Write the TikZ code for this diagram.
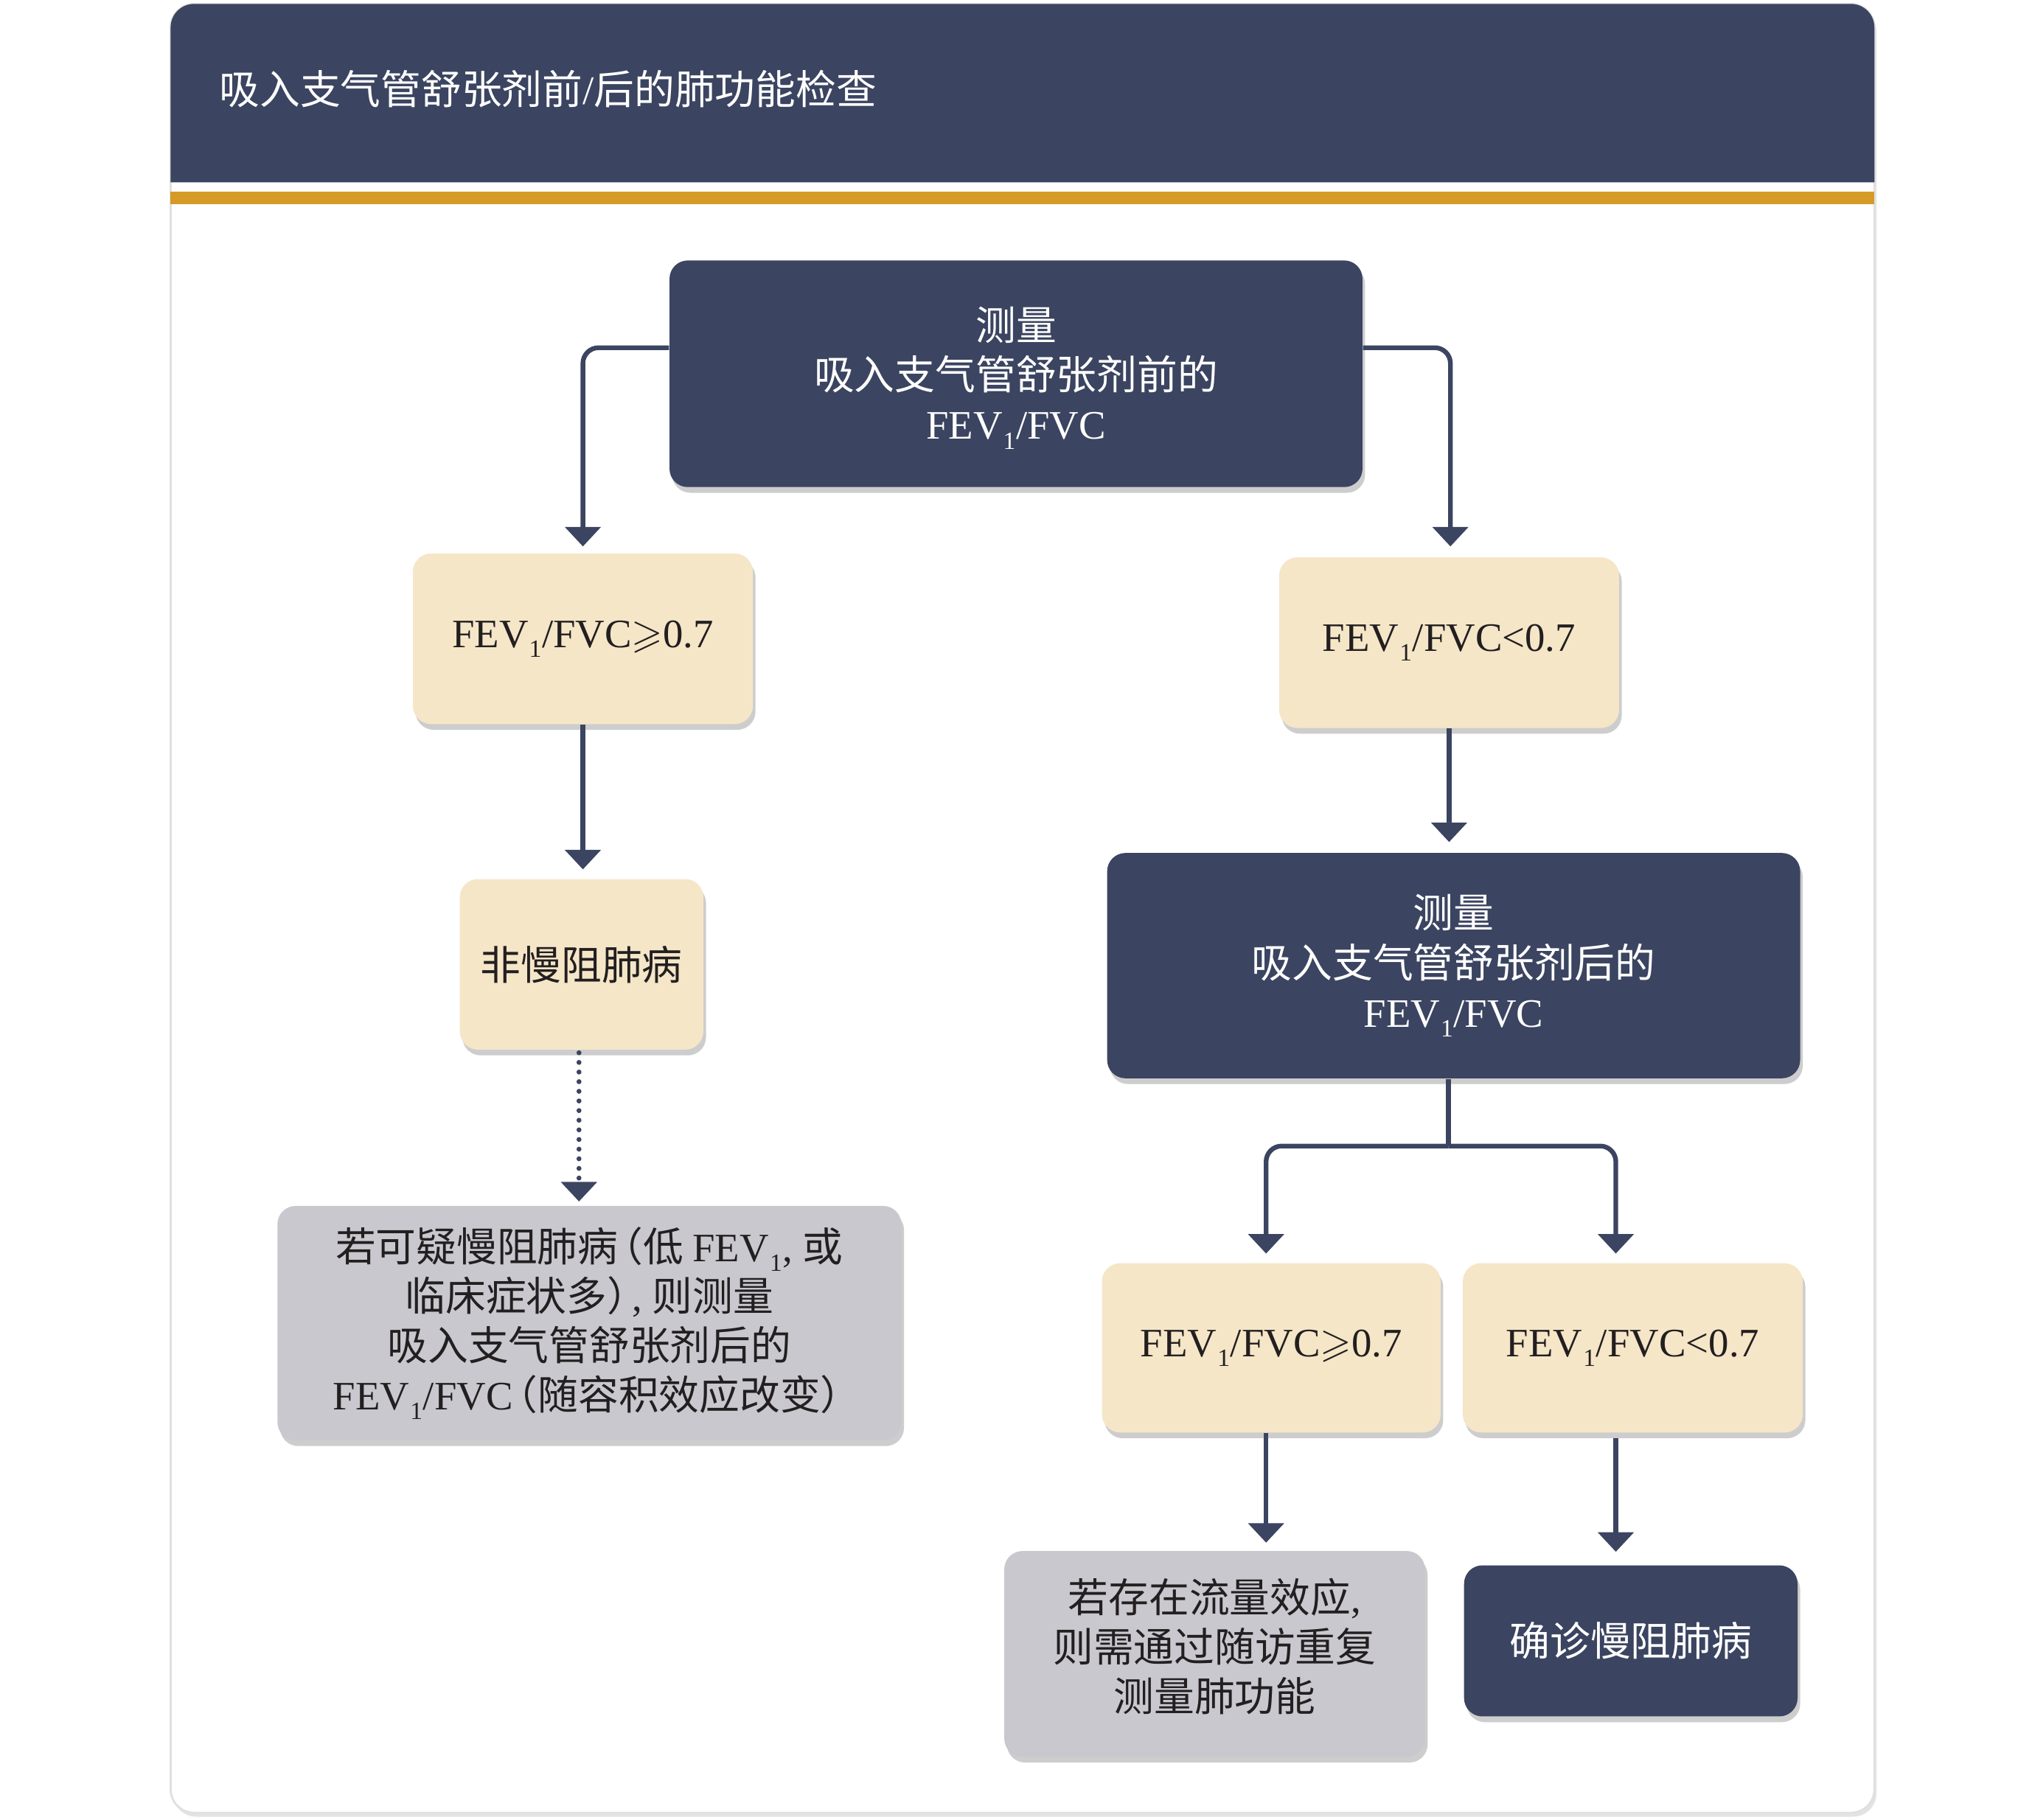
\documentclass[tikz,border=0pt]{standalone}
\usepackage{fontspec}
\usepackage{amssymb}
\setmainfont{Liberation Serif}
\newfontfamily\cjk{Noto Sans CJK SC}
\usetikzlibrary{arrows.meta,shadows}
\definecolor{navy}{RGB}{59,68,96}
\definecolor{beige}{RGB}{245,230,200}
\definecolor{boxgray}{RGB}{200,200,206}
\definecolor{gold}{RGB}{213,155,38}
\definecolor{ink}{RGB}{35,31,32}
\newcommand{\lt}[1]{{\rmfamily #1}}
\newcommand{\sone}{\kern0.3pt\raisebox{-0.24em}{\fontsize{9.5}{9.5}\selectfont 1}\kern0.2pt}
\newcommand{\fevr}{\lt{FEV\sone/FVC}}
\newcommand{\lpar}{\kern-0.38em（}
\newcommand{\rpar}{）\kern-0.38em}
\tikzset{
  box/.style={rounded corners=7pt, align=center, inner sep=0pt,
    font=\fontsize{15.5}{19}\selectfont\cjk,
    drop shadow={shadow xshift=1pt, shadow yshift=-2.2pt, opacity=0.28, fill=black!70}},
  darkbox/.style={box, fill=navy, text=white},
  tanbox/.style={box, fill=beige, text=ink},
  graybox/.style={box, fill=boxgray, text=ink},
  conn/.style={draw=navy, line width=1.8pt, rounded corners=6pt,
    -{Triangle[width=13.5pt,length=7.5pt]}},
  plainconn/.style={draw=navy, line width=1.8pt},
  dotconn/.style={conn, rounded corners=0pt, line width=1.9pt, line cap=round,
    dash pattern=on 0pt off 3.7pt}
}
\begin{document}
\begin{tikzpicture}[x=0.5pt,y=-0.5pt]
\useasboundingbox (0,0) rectangle (1560,1397.5);
% card
\path[fill=white, draw=black!12, line width=0.8pt, rounded corners=9pt,
  drop shadow={shadow xshift=0.8pt, shadow yshift=-1.5pt, opacity=0.18, fill=black!60}]
  (131,3) rectangle (1439,1392);
\fill[navy] (131,140) [rounded corners=9pt] -- (131,3) -- (1439,3) [sharp corners] -- (1439,140) -- cycle;
\fill[gold] (131,147) rectangle (1439,157);
\node[anchor=west, text=white, inner sep=0pt, font=\fontsize{15.5}{19}\selectfont\cjk] (title) at (168,68) {吸入支气管舒张剂前\lt{/}后的肺功能检查};

% nodes
\node[darkbox, minimum width=266pt, minimum height=87pt] (A) at (780,287) {\rule{0pt}{16pt}测量\\吸入支气管舒张剂前的\\\fevr};
\node[tanbox, minimum width=130.5pt, minimum height=65.5pt] (B) at (447.5,490.5) {\lt{FEV\sone/FVC$\geqslant$0.7}};
\node[tanbox, minimum width=130.5pt, minimum height=65.5pt] (C) at (1112.5,493.5) {\lt{FEV\sone/FVC<0.7}};
\node[tanbox, minimum width=93.5pt, minimum height=65.5pt] (D) at (446.5,740.5) {非慢阻肺病};
\node[graybox, minimum width=239.5pt, minimum height=90pt] (E) at (452.5,1016)
  {\rule{0pt}{13pt}若可疑慢阻肺病\lpar 低 \lt{FEV\sone, }或\\临床症状多\rpar\lt{, }则测量\\吸入支气管舒张剂后的\\\fevr\lpar 随容积效应改变\rpar};
\node[darkbox, minimum width=266pt, minimum height=86.5pt] (F) at (1116,741.5) {测量\\吸入支气管舒张剂后的\\\fevr};
\node[tanbox, minimum width=130pt, minimum height=65pt] (G) at (976,1035) {\lt{FEV\sone/FVC$\geqslant$0.7}};
\node[tanbox, minimum width=130.5pt, minimum height=65pt] (H) at (1253.5,1035) {\lt{FEV\sone/FVC<0.7}};
\node[graybox, minimum width=161.5pt, minimum height=79pt] (I) at (932.5,1270) {若存在流量效应\lt{,}\\则需通过随访重复\\测量肺功能\rule[-7pt]{0pt}{1pt}};
\node[darkbox, minimum width=128pt, minimum height=58pt] (J) at (1252,1260) {确诊慢阻肺病};

% connectors
\draw[conn] ([yshift=10pt]A.west) -| ([yshift=2.5pt]B.north);
\draw[conn] ([yshift=10pt]A.east) -| ([xshift=0.5pt,yshift=4pt]C.north);
\draw[conn] (B.south) -- ([yshift=3.5pt]B.south |- D.north);
\draw[conn] (C.south) -- ([yshift=4pt]C.south |- F.north);
\draw[dotconn] ([xshift=-1pt,yshift=-1pt]D.south) -- ([xshift=-1pt,yshift=1.5pt]D.south |- E.north);
\coordinate (split) at (1112,880);
\draw[plainconn] (F.south -| split) -- (split);
\draw[conn] (split) -| ([xshift=-2pt,yshift=3.5pt]G.north);
\draw[conn] (split) -| ([xshift=-6.5pt,yshift=3.5pt]H.north);
\draw[conn] ([xshift=-2pt]G.south) -- ([xshift=-2pt,yshift=3pt]G.south |- I.north);
\draw[conn] ([xshift=-6.5pt,yshift=-2pt]H.south) -- ([xshift=-6.5pt,yshift=5pt]H.south |- J.north);
\end{tikzpicture}
\end{document}
